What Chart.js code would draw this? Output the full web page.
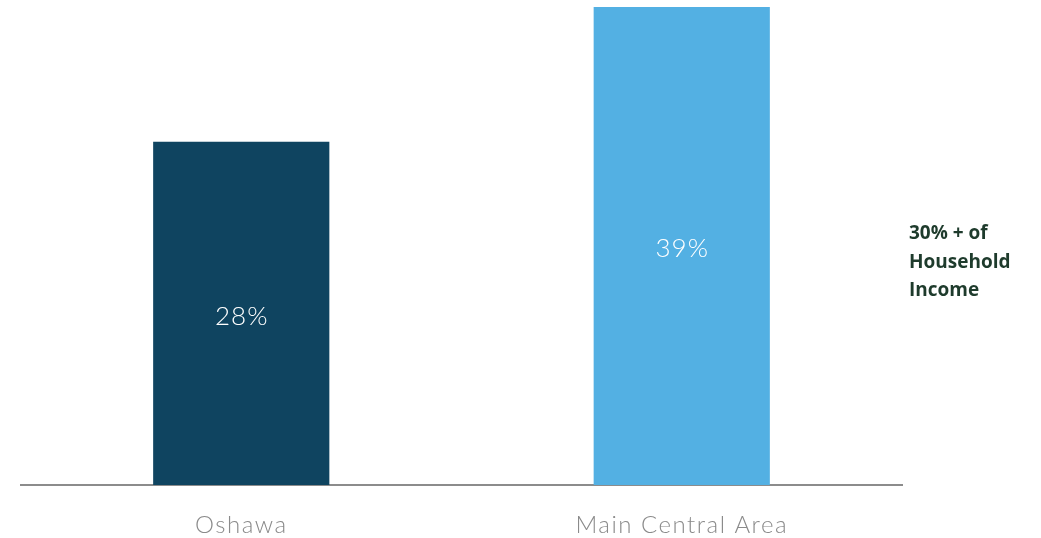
<!DOCTYPE html>
<html>
<head>
<meta charset="utf-8">
<style>
  html, body { margin: 0; padding: 0; background: #ffffff; }
  #wrap { width: 1041px; height: 538px; position: relative; }
</style>
<script src="https://cdn.jsdelivr.net/npm/chart.js@4.4.1/dist/chart.umd.min.js"></script>
</head>
<body>
<div id="wrap"><canvas id="c" width="1041" height="538"></canvas></div>
<script>
// Share of households spending 30% or more of income on housing
const categories = ['Oshawa', 'Main Central Area'];
const shares = [28, 39];
const barColors = ['#0f4460', '#53b0e3'];
const seriesLabel = ['30% + of', 'Household', 'Income'];

// Slightly tracked-out lettering for the axis labels
const tracking = {
  id: 'tracking',
  beforeDraw(chart) {
    chart.ctx.letterSpacing = '1.5px';
  }
};

// Percent text drawn in the middle of each bar
const barValueLabels = {
  id: 'barValueLabels',
  afterDatasetsDraw(chart) {
    const ctx = chart.ctx;
    const meta = chart.getDatasetMeta(0);
    ctx.save();
    ctx.letterSpacing = '1px';
    ctx.fillStyle = '#ffffff';
    ctx.font = '300 26px Lato, "Open Sans", sans-serif';
    ctx.textAlign = 'center';
    ctx.textBaseline = 'middle';
    meta.data.forEach((bar, i) => {
      const mid = (bar.y + bar.base) / 2;
      ctx.fillText(shares[i] + '%', bar.x + 0.5, mid + 3);
    });
    ctx.restore();
  }
};

// Series caption to the right of the plot
const sideCaption = {
  id: 'sideCaption',
  afterDraw(chart) {
    const ctx = chart.ctx;
    const area = chart.chartArea;
    ctx.save();
    ctx.letterSpacing = '0px';
    ctx.fillStyle = '#1e3b2c';
    ctx.font = 'bold 19px "Open Sans", "Noto Sans", sans-serif';
    ctx.textAlign = 'left';
    ctx.textBaseline = 'middle';
    const x = area.right + 7;
    seriesLabel.forEach((line, i) => {
      ctx.fillText(line, x, 234 + i * 28.5);
    });
    ctx.restore();
  }
};

new Chart(document.getElementById('c'), {
  type: 'bar',
  data: {
    labels: categories,
    datasets: [{
      label: seriesLabel.join(' '),
      data: shares,
      backgroundColor: barColors,
      borderWidth: 0,
      barPercentage: 0.4,
      categoryPercentage: 1.0
    }]
  },
  options: {
    responsive: false,
    animation: false,
    layout: { padding: { left: 21, right: 139, top: 7, bottom: 0 } },
    plugins: {
      legend: { display: false },
      tooltip: { enabled: false }
    },
    scales: {
      x: {
        grid: { display: false, drawTicks: false },
        border: { display: true, color: '#8c8c8c', width: 2 },
        afterFit(scale) { scale.height = 53; },
        ticks: {
          color: '#8a8a8a',
          padding: 26,
          font: { family: 'Lato, "Open Sans", sans-serif', size: 24, weight: '300', lineHeight: 1.2 }
        }
      },
      y: {
        display: false,
        min: 0,
        max: 39
      }
    }
  },
  plugins: [tracking, barValueLabels, sideCaption]
});
</script>
</body>
</html>
